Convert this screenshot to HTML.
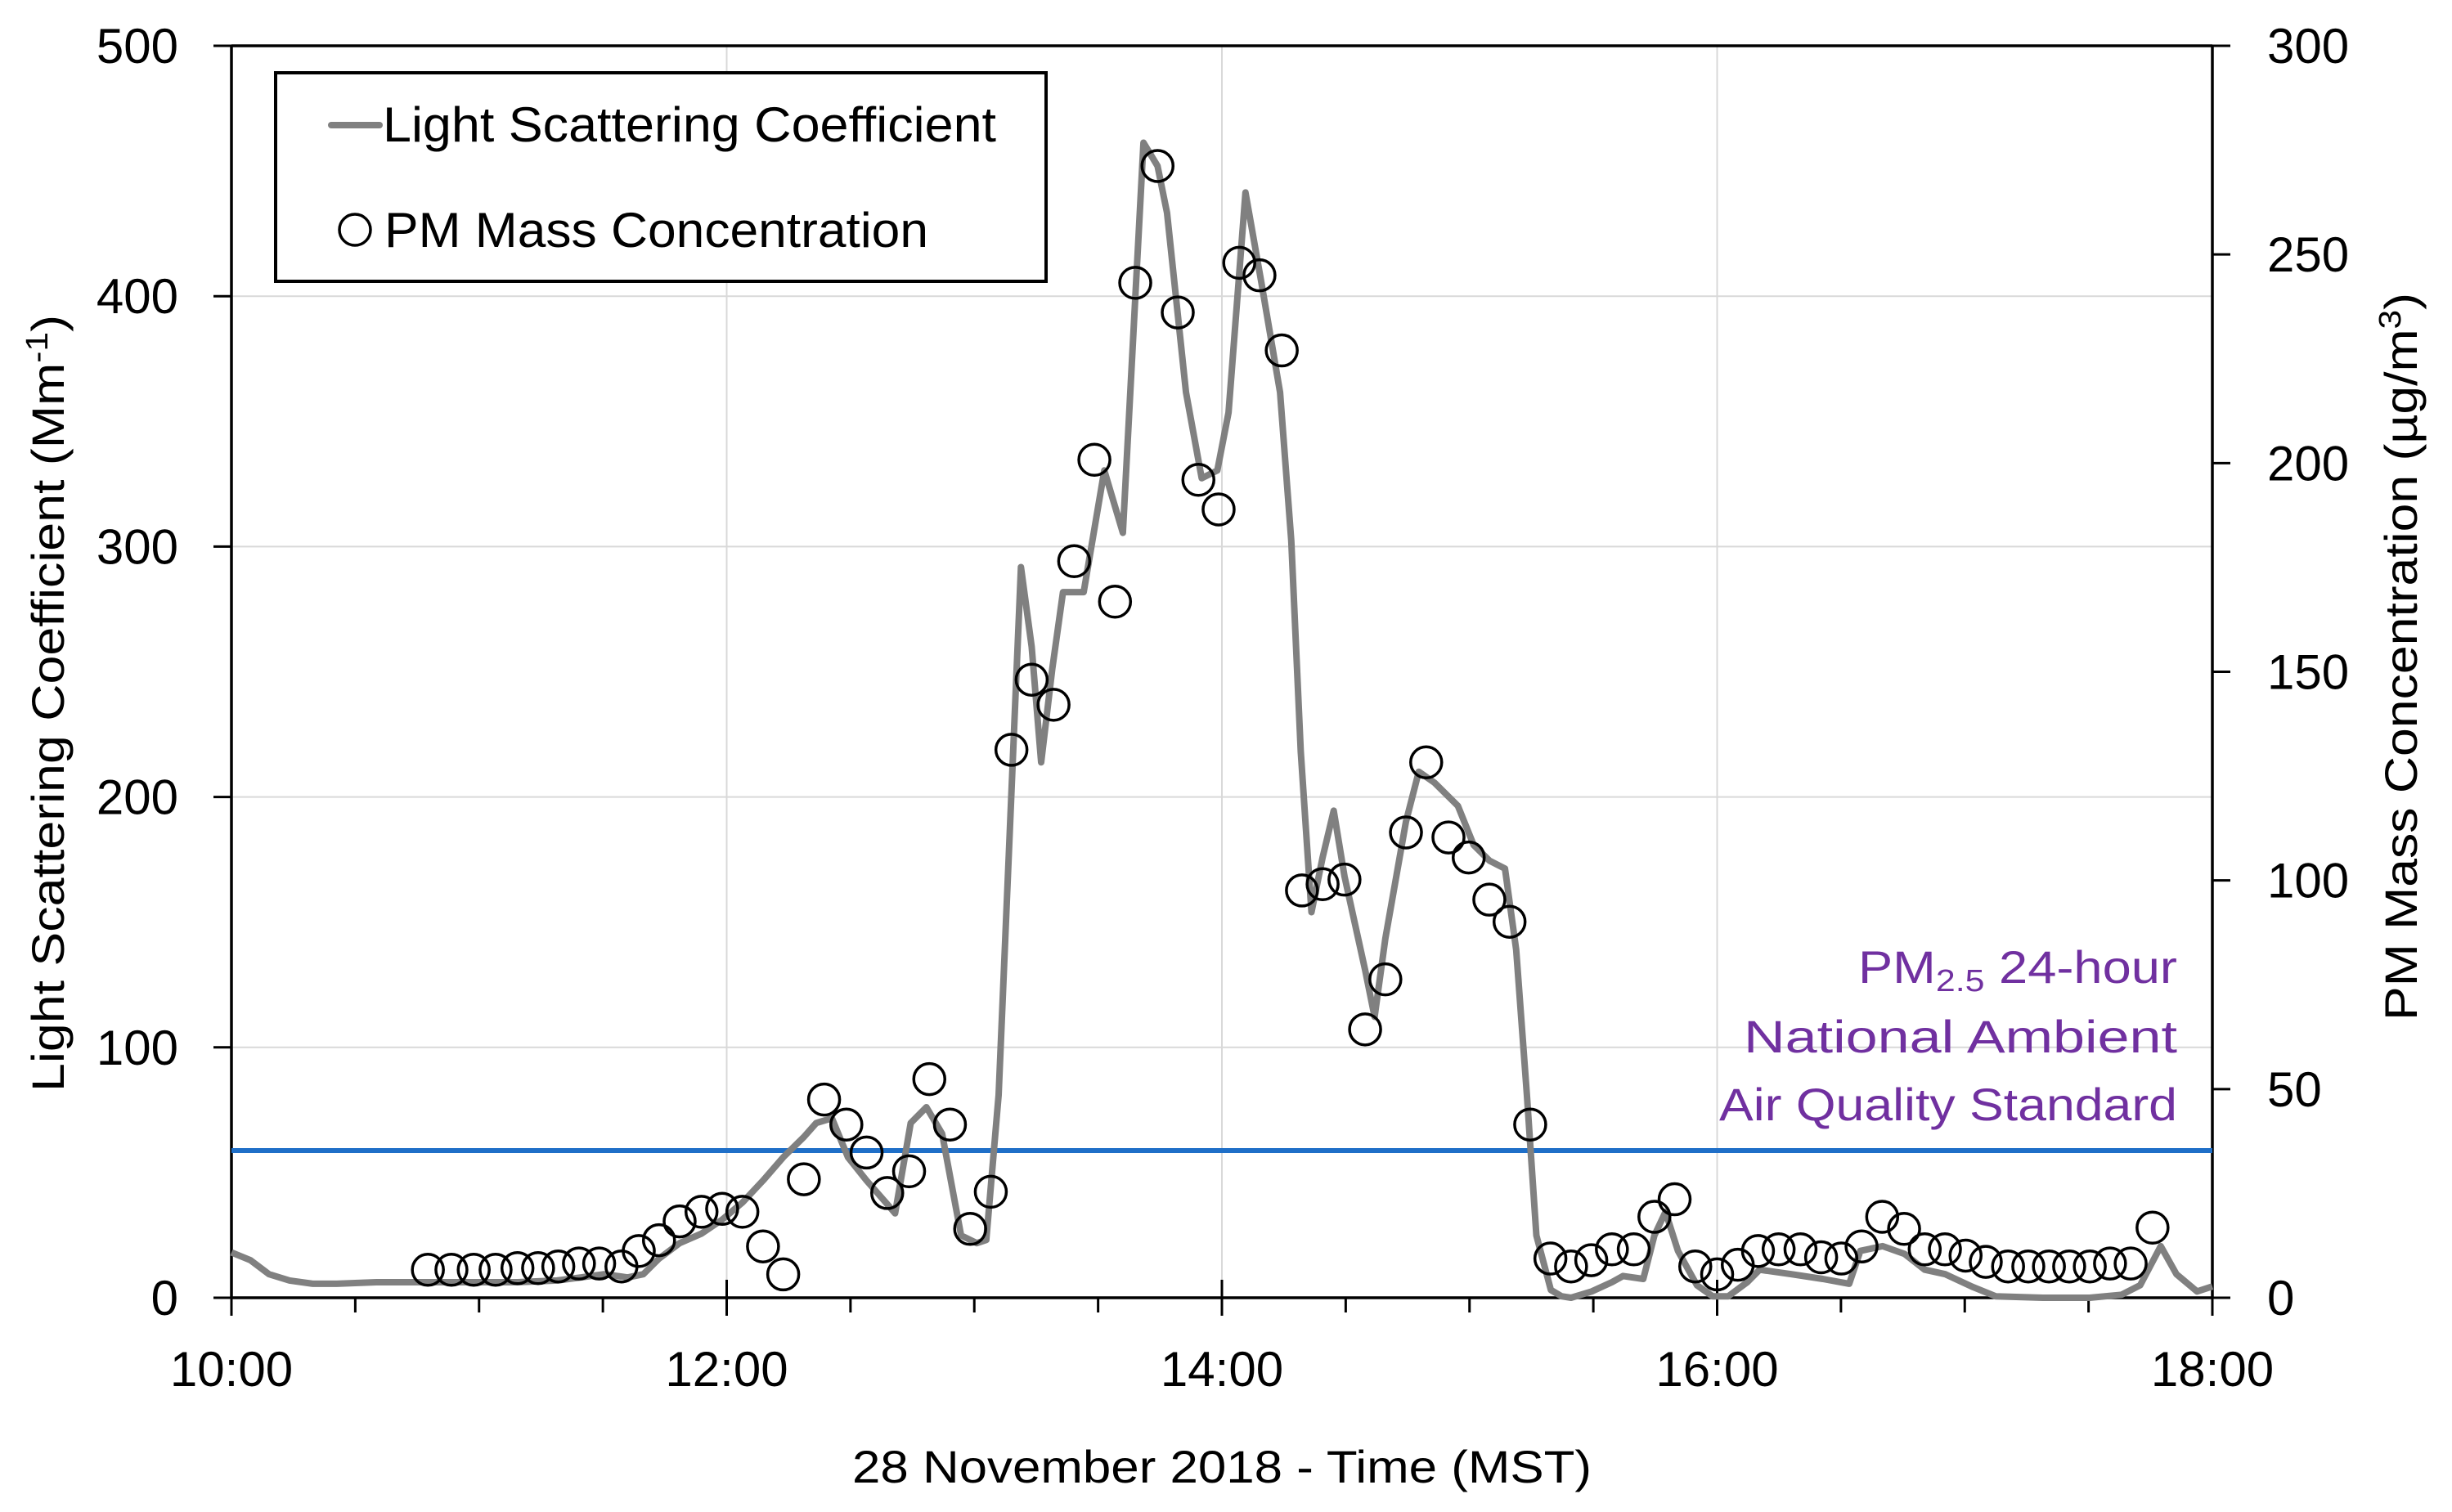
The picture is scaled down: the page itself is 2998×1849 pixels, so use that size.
<!DOCTYPE html>
<html><head><meta charset="utf-8"><style>
html,body{margin:0;padding:0;background:#fff}
svg{display:block;font-family:"Liberation Sans",sans-serif}
</style></head><body>
<svg id="chart" width="2998" height="1849" viewBox="0 0 2998 1849" xmlns="http://www.w3.org/2000/svg">
<g id="grid"></g>
<g id="axes"></g>
<line x1="283" x2="2705" y1="1407" y2="1407" stroke="#1f6fc8" stroke-width="6"/>
<g id="series"></g>
<g fill="#7030a0" font-size="56" text-anchor="end">
<text x="2662" y="1202" textLength="390" lengthAdjust="spacingAndGlyphs">PM<tspan font-size="38" dy="10">2.5</tspan><tspan dy="-10"> 24-hour</tspan></text>
<text x="2662" y="1287" textLength="530" lengthAdjust="spacingAndGlyphs">National Ambient</text>
<text x="2662" y="1370" textLength="560" lengthAdjust="spacingAndGlyphs">Air Quality Standard</text>
</g>
<g>
<rect x="337" y="89" width="942" height="255" fill="#fff" stroke="#000" stroke-width="4"/>
<line x1="405" x2="464" y1="153" y2="153" stroke="#808080" stroke-width="8" stroke-linecap="round"/>
<text x="468" y="173" font-size="60" textLength="750" lengthAdjust="spacingAndGlyphs">Light Scattering Coefficient</text>
<circle cx="434" cy="281" r="19" fill="#fff" stroke="#000" stroke-width="3.5"/>
<text x="470" y="302" font-size="60" textLength="665" lengthAdjust="spacingAndGlyphs">PM Mass Concentration</text>
</g>
<text transform="translate(78,860) rotate(-90)" font-size="56" text-anchor="middle" textLength="950" lengthAdjust="spacingAndGlyphs">Light Scattering Coefficient (Mm<tspan font-size="38" dy="-20">-1</tspan><tspan dy="20">)</tspan></text>
<text transform="translate(2955,803) rotate(-90)" font-size="56" text-anchor="middle" textLength="890" lengthAdjust="spacingAndGlyphs">PM Mass Concentration (µg/m<tspan font-size="38" dy="-20">3</tspan><tspan dy="20">)</tspan></text>
<text x="1494" y="1813" font-size="56" text-anchor="middle" textLength="904" lengthAdjust="spacingAndGlyphs">28 November 2018 - Time (MST)</text>
</svg>
<script>
const lineMinutes=[0,4.6,9.1,14.1,19.8,25.5,35.1,46.5,57.9,69.3,78.9,84.6,90.3,96.0,99.8,103.6,108.6,113.9,118.9,123.8,128.8,133.7,138.7,141.7,145.5,149.4,153.9,158.9,160.8,164.6,168.4,172.2,176.8,180.6,182.9,185.9,187.5,191.3,193.9,196.2,198.9,201.5,206.5,211.5,216.0,221.0,224.4,226.7,231.3,235.1,238.9,241.6,245.7,249.6,254.1,256.8,259.1,261.7,264.4,267.1,269.7,274.7,277.0,279.6,284.6,287.7,291.5,297.2,301.0,304.8,308.6,311.3,313.9,316.2,319.7,322.3,324.6,329.6,334.5,337.2,342.1,344.8,347.5,350.5,355.1,358.9,362.7,367.3,370.3,378.0,385.6,392.0,394.7,400.1,405.4,410.3,415.3,421.8,427.5,438.9,450.3,458.0,462.5,467.5,471.3,476.3,480.0];
const lineValues=[18.1,15,9.4,6.9,5.6,5.6,6.2,6.2,6.2,6.2,6.9,8.1,9.4,8.1,9.4,15.6,21.8,25.6,31.2,38.0,46.8,56.1,64.2,69.8,71.7,56.1,46.8,37.4,33.7,69.8,76.1,65.5,24.9,21.8,23.1,81.0,143.4,291.8,260.0,213.8,251.2,281.8,281.8,330.4,305.5,461.3,452.0,433.3,361.6,327.3,330.4,353.5,441.4,405.2,361.6,302.4,218.2,154.0,175.8,194.5,168.3,130.9,112.2,143.4,190.1,210.1,205.7,196.4,180.8,174.6,171.4,139.0,81.0,24.9,3.1,0.6,0,2.5,6.2,8.7,7.5,24.9,34.3,18.7,5.0,0.6,0.6,6.2,11.2,9.4,7.5,5.6,18.7,20.6,17.5,11.2,9.4,4.4,0.6,0,0,1.2,5.0,20.6,9.4,2.5,4.5];
const pmMinutes=[47.6,53.3,58.7,64.0,69.3,74.3,79.2,84.2,89.1,94.5,98.7,103.6,108.6,113.9,118.9,123.8,128.8,133.7,138.7,143.6,149.0,153.9,158.9,164.2,169.1,174.1,179.0,184.0,189.0,193.9,199.2,204.2,209.1,214.1,219.0,224.4,229.3,234.3,239.2,244.2,249.1,254.5,259.4,264.4,269.7,274.7,279.6,284.6,289.5,294.9,299.8,304.8,309.7,314.7,319.6,324.6,329.5,334.5,339.8,344.8,349.7,354.7,360.0,365.0,369.9,374.9,380.2,385.2,390.1,395.0,400.0,405.3,410.3,415.2,420.2,425.1,430.5,435.4,440.4,445.3,450.3,455.2,460.2,465.5];
const pmValues=[6.7,6.7,6.7,6.7,7.1,7.1,7.5,8.2,8.2,7.5,11.2,13.8,18.3,20.6,21.3,20.6,12.3,5.6,28.4,47.5,41.5,34.8,25.1,30.3,52.4,41.5,16.5,25.4,131.3,148.1,142.1,176.5,200.8,166.8,243.2,271.2,236.1,196.0,188.9,248.0,245.0,227.0,97.6,99.1,100.2,64.3,76.3,111.5,128.3,110.3,105.5,95.4,90.1,41.5,9.4,7.5,9.0,11.6,11.6,19.4,23.6,7.5,5.6,7.9,11.2,11.6,11.6,9.7,9.4,12.3,19.4,16.5,11.6,11.6,10.1,8.6,7.5,7.5,7.5,7.5,7.5,8.2,8.2,16.8];
const leftTicks=[0,100,200,300,400,500];
const rightTicks=[0,50,100,150,200,250,300];
const xTickLabels=["10:00","12:00","14:00","16:00","18:00"];

const L=283,R=2705,T=56,B=1587,NS="http://www.w3.org/2000/svg";
function xs(m){return L+m/480*(R-L);}
function yl(v){return B-v/500*(B-T);}
function yr(v){return B-v/300*(B-T);}
function mk(tag,attrs,parent,txt){const e=document.createElementNS(NS,tag);for(const k in attrs)e.setAttribute(k,attrs[k]);if(txt!==undefined)e.textContent=txt;parent.appendChild(e);return e;}
const grid=document.getElementById('grid'),axes=document.getElementById('axes'),series=document.getElementById('series');
leftTicks.forEach(v=>{if(v>0&&v<500){const g=mk('line',{x1:L,x2:R,y1:yl(v),y2:yl(v),stroke:'#d9d9d9','stroke-width':2},grid);}
 const t=mk('line',{x1:L-22,x2:L,y1:yl(v),y2:yl(v),stroke:'#000','stroke-width':3},axes);
 const s=mk('text',{x:218,y:yl(v)+21,'font-size':60,'text-anchor':'end'},axes,String(v));});
rightTicks.forEach(v=>{const t=mk('line',{x1:R,x2:R+22,y1:yr(v),y2:yr(v),stroke:'#000','stroke-width':3},axes);
 const s=mk('text',{x:2772,y:yr(v)+21,'font-size':60},axes,String(v));});
xTickLabels.forEach((lab,i)=>{const m=i*120,x=xs(m);
 if(i>0&&i<4){const g=mk('line',{x1:x,x2:x,y1:T,y2:B,stroke:'#d9d9d9','stroke-width':2},grid);}
 const t=mk('line',{x1:x,x2:x,y1:B-22,y2:B+22,stroke:'#000','stroke-width':3},axes);
 const s=mk('text',{x:x,y:1695,'font-size':60,'text-anchor':'middle'},axes,lab);});
for(let m=30;m<480;m+=30){if(m%120===0)continue;const t=mk('line',{x1:xs(m),x2:xs(m),y1:B,y2:B+18,stroke:'#000','stroke-width':3},axes);}
const frame=[[L,T,R,T],[L,T,L,B],[R,T,R,B],[L,B,R,B]];
frame.forEach(f=>{const e=mk('line',{x1:f[0],y1:f[1],x2:f[2],y2:f[3],stroke:'#000','stroke-width':3.5},axes);});
const pts=lineMinutes.map((m,i)=>xs(m).toFixed(1)+','+yl(lineValues[i]).toFixed(1)).join(' ');
const pl=mk('polyline',{points:pts,fill:'none',stroke:'#808080','stroke-width':8,'stroke-linejoin':'round'},series);


pmMinutes.forEach((m,i)=>{const c=mk('circle',{cx:xs(m),cy:yr(pmValues[i]),r:19,fill:'none',stroke:'#000','stroke-width':3.5},series);

});
</script>
</body></html>
